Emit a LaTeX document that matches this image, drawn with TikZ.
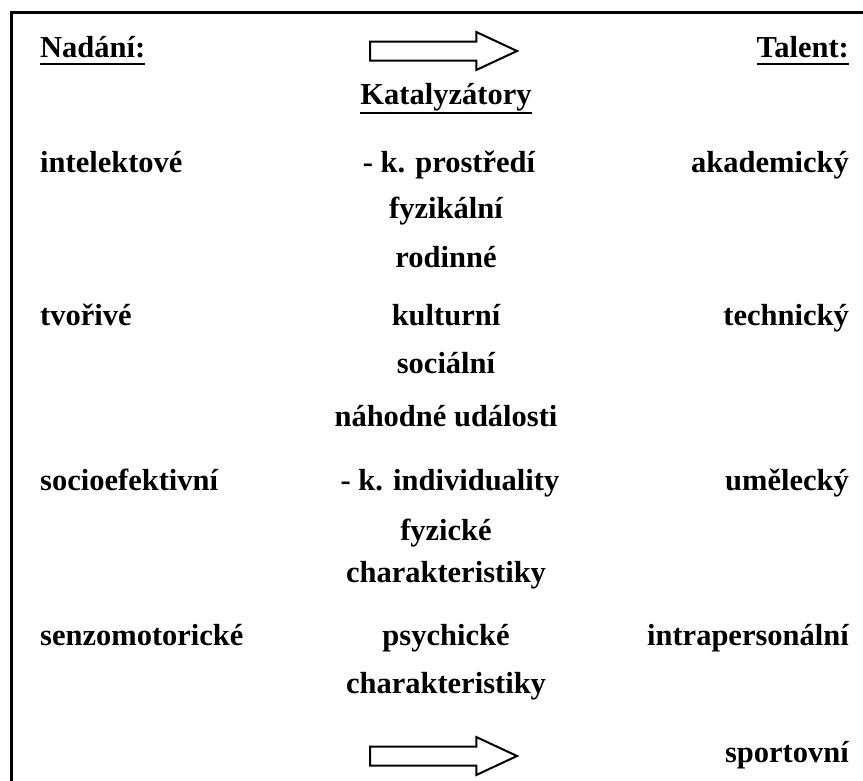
\documentclass[tikz,border=0pt]{standalone}
\usepackage{fontspec}
\setmainfont{Liberation Serif}
\usetikzlibrary{shapes.arrows,positioning}

\tikzset{
  word/.style={font=\fontsize{30.5}{36}\selectfont\bfseries, inner sep=0pt},
  lcol/.style={word, anchor=base west},
  ccol/.style={word, anchor=base},
  rcol/.style={word, anchor=base east},
  uline/.style={line width=2pt},
  fatarrow/.style={single arrow, draw, line width=2pt, minimum height=147pt,
    inner xsep=0pt, inner ysep=8.5pt, single arrow head extend=9.5pt,
    single arrow tip angle=50, single arrow head indent=0pt, anchor=tail},
}

\begin{document}
\begin{tikzpicture}[x=1pt,y=-1pt]
    \useasboundingbox (0,0) rectangle (863,780);
    \draw [line width=3pt] (11,790) -- (11,12) -- (870,12);

    % headings
    \node (nadani) [lcol] at (40,57) {Nadání:};
    \node (talent) [rcol] at (849,57) {Talent:};
    \node (kat) [ccol] at (446,104) {Katalyzátory};
    \draw [uline] ([yshift=-7pt]nadani.base west) -- ([yshift=-7pt]nadani.base east);
    \draw [uline] ([yshift=-7pt]talent.base west) -- ([yshift=-7pt]talent.base east);
    \draw [uline] ([yshift=-9pt]kat.base west) -- ([yshift=-9pt]kat.base east);

    \node (arr1) [fatarrow] at (369,51) {};
    \node (arr2) [fatarrow] at (369,756) {};

    % nadani
    \node (intel) [lcol] at (40,172) {intelektové};
    \node (tvor) [lcol] at (40,325) {tvořivé};
    \node (socio) [lcol] at (40,490) {socioefektivní};
    \node (senzo) [lcol] at (40,645) {senzomotorické};

    % katalyzatory
    \node (prost) [ccol] at (449,172) {- k. prostředí};
    \node (fyz) [ccol] at (446,218) {fyzikální};
    \node (rod) [ccol] at (446,267) {rodinné};
    \node (kult) [ccol] at (446,325) {kulturní};
    \node (soc) [ccol] at (446,373) {sociální};
    \node (nah) [ccol] at (446,426) {náhodné události};
    \node (indiv) [ccol] at (450,490) {- k. individuality};
    \node (fyzch) [ccol] at (446,540) {fyzické};
    \node (char1) [ccol] at (446,582) {charakteristiky};
    \node (psych) [ccol] at (446,645) {psychické};
    \node (char2) [ccol] at (446,693) {charakteristiky};

    % talent
    \node (akad) [rcol] at (849,172) {akademický};
    \node (tech) [rcol] at (849,325) {technický};
    \node (umel) [rcol] at (849,490) {umělecký};
    \node (intra) [rcol] at (849,645) {intrapersonální};
    \node (sport) [rcol] at (849,762) {sportovní};
\end{tikzpicture}
\end{document}
